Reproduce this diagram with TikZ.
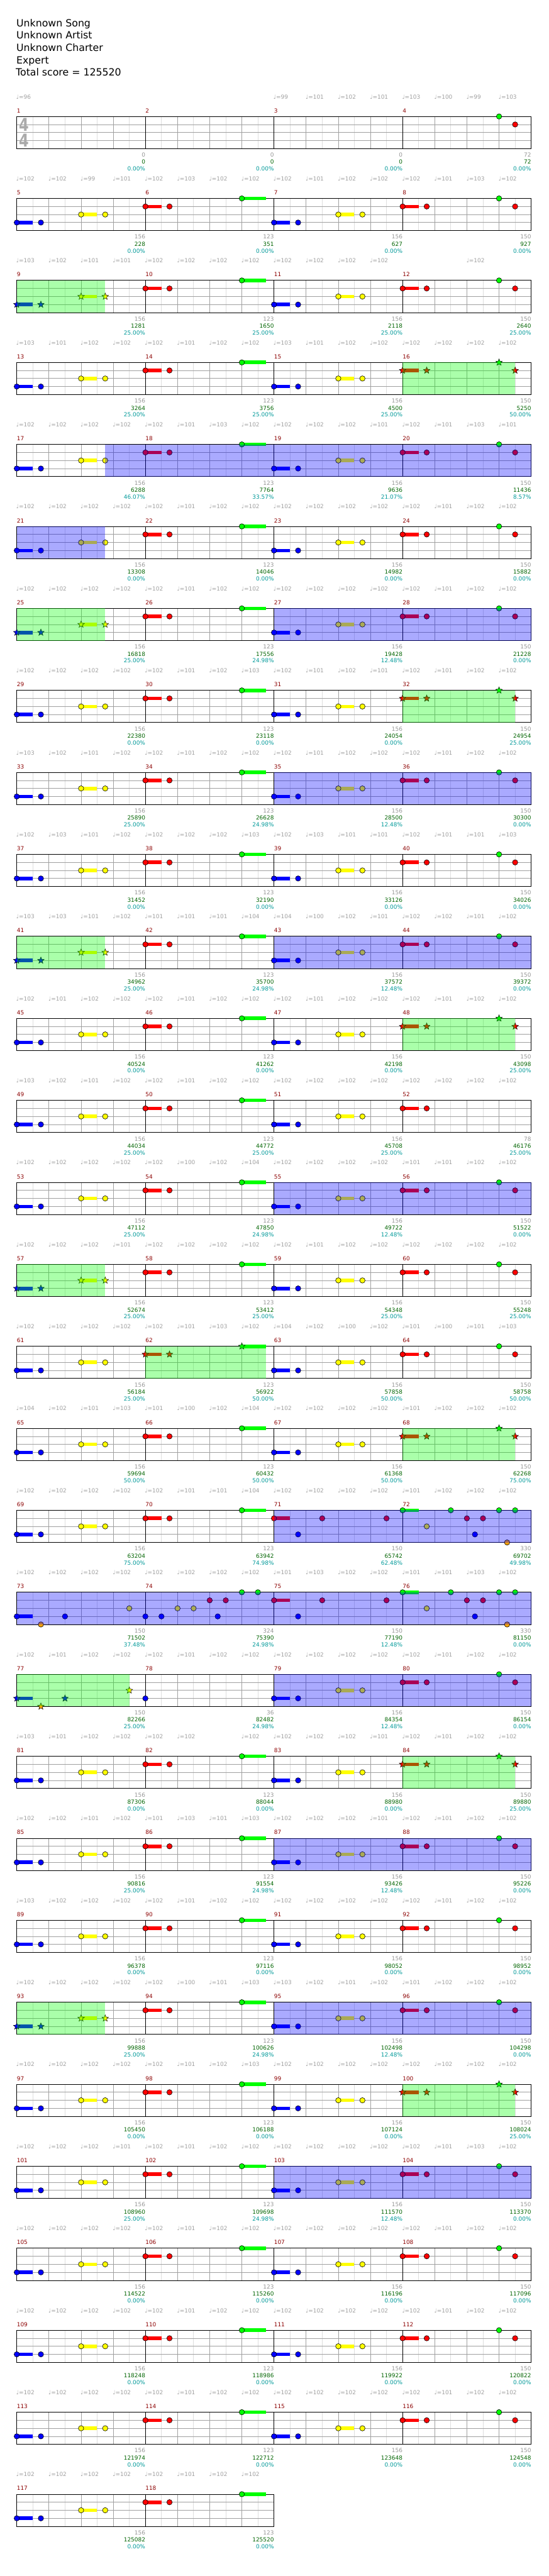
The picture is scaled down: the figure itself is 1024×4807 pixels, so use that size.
\documentclass[tikz,border=0pt]{standalone}
\usepackage{fontspec}
\setmainfont{DejaVu Sans}
\usetikzlibrary{shapes.geometric}
\definecolor{lane0}{RGB}{0,255,0}
\definecolor{lane1}{RGB}{255,0,0}
\definecolor{lane2}{RGB}{255,255,0}
\definecolor{lane3}{RGB}{0,0,255}
\definecolor{lane4}{RGB}{255,165,0}
\definecolor{gridD}{RGB}{160,160,160}
\definecolor{gridL}{RGB}{222,222,222}
\definecolor{mnumC}{RGB}{140,0,0}
\definecolor{tempoC}{RGB}{160,160,160}
\definecolor{scoreA}{RGB}{150,150,150}
\definecolor{scoreB}{RGB}{0,100,0}
\definecolor{scoreC}{RGB}{0,153,153}
\definecolor{tsC}{RGB}{170,170,170}
\newcount\ncnt
\newcommand\setm[1]{\pgfmathsetmacro\mx{31.3+240*mod(#1-1,4)}\pgfmathsetmacro\my{217.3+153*floor((#1-1)/4)}}
\newcommand\nt[4]{\setm{#1}\pgfmathsetmacro\ny{\my+15*#2}%
  \ifnum#4>0 \fill[lane#2] (\mx+#3,\ny-3.3) rectangle ++(#4,6.6);\fi
  \fill[lane#2,draw=black,line width=0.7pt] (\mx+#3,\ny) circle[radius=5];}
\newcommand\stn[4]{\setm{#1}\pgfmathsetmacro\ny{\my+15*#2}%
  \ifnum#4>0 \fill[lane#2] (\mx+#3,\ny-3.3) rectangle ++(#4,6.6);\fi
  \global\advance\ncnt by 1
  \node[starnote,fill=lane#2,name=n\the\ncnt] at (\mx+#3,\ny) {};}
\newcommand\patA[1]{\nt{#1}{3}{0}{30}\nt{#1}{3}{45}{0}\nt{#1}{2}{120}{30}\nt{#1}{2}{165}{0}}
\newcommand\starA[1]{\stn{#1}{3}{0}{30}\stn{#1}{3}{45}{0}\stn{#1}{2}{120}{30}\stn{#1}{2}{165}{0}}
\newcommand\patB[1]{\nt{#1}{1}{0}{30}\nt{#1}{1}{45}{0}\nt{#1}{0}{180}{45}}
\newcommand\starB[1]{\stn{#1}{1}{0}{30}\stn{#1}{1}{45}{0}\stn{#1}{0}{180}{45}}
\newcommand\patD[1]{\nt{#1}{1}{0}{30}\nt{#1}{1}{45}{0}\nt{#1}{0}{180}{0}\nt{#1}{1}{210}{0}}
\newcommand\starD[1]{\stn{#1}{1}{0}{30}\stn{#1}{1}{45}{0}\stn{#1}{0}{180}{0}\stn{#1}{1}{210}{0}}
\newcommand\patX[1]{\nt{#1}{1}{0}{30}\nt{#1}{3}{45}{0}\nt{#1}{1}{90}{0}\nt{#1}{1}{210}{0}}
\newcommand\patY[1]{\nt{#1}{0}{0}{30}\nt{#1}{2}{45}{0}\nt{#1}{0}{90}{0}\nt{#1}{1}{120}{0}\nt{#1}{3}{135}{0}\nt{#1}{1}{150}{0}\nt{#1}{0}{180}{0}\nt{#1}{4}{195}{0}\nt{#1}{0}{210}{0}}
\newcommand\gsp[3]{\setm{#1}\fill[lane0,opacity=0.333] (\mx+#2,\my) rectangle (\mx+#3,\my+60);}
\newcommand\bov[3]{\setm{#1}\fill[lane3,opacity=0.333] (\mx+#2,\my) rectangle (\mx+#3,\my+60);}
\newcommand\ChScore[4]{\setm{#1}%
  \node[lbl,text=scoreA,anchor=base east] (sa#1) at (\mx+240,\my+75.6) {#2};
  \node[lbl,text=scoreB,anchor=base east] (sb#1) at (\mx+240,\my+88.9) {#3};
  \node[lbl,text=scoreC,anchor=base east] (sc#1) at (\mx+240,\my+101.6) {#4\%};}
\newcommand\ChTq[3]{\def\tmparg{#3}\ifx\tmparg\empty\else\setm{#1}\global\advance\ncnt by 1
  \node[lbl,text=tempoC,anchor=base west,name=n\the\ncnt] at (\mx+60*#2-1,\my-33) {♩=#3};\fi}
\newcommand\ChTempo[5]{\ChTq{#1}{0}{#2}\ChTq{#1}{1}{#3}\ChTq{#1}{2}{#4}\ChTq{#1}{3}{#5}}
\tikzset{
  starnote/.style={star,star points=5,star point ratio=2.3,minimum size=13pt,inner sep=0pt,draw=black,line width=0.6pt},
  lbl/.style={inner sep=0pt,font=\fontsize{10.5}{12}\selectfont},
  head/.style={inner sep=0pt,anchor=base west,font=\fontsize{18.5}{22}\selectfont},
}
\begin{document}
\begin{tikzpicture}[x=1pt,y=-1pt]
\fill[white] (0,0) rectangle (1024,4807);
\useasboundingbox (0,0) rectangle (1024,4807);
% header
\node[head] (h1) at (30.5,49.3) {Unknown Song};
\node[head] (h2) at (30.5,72.3) {Unknown Artist};
\node[head] (h3) at (30.5,95.7) {Unknown Charter};
\node[head] (h4) at (30.5,118.7) {Expert};
\node[head] (h5) at (29.3,141.3) {Total score = 125520};
% grids
\foreach \m in {1,...,118}{
  \setm{\m}
  \foreach \k in {30,90,150,210} \draw[gridL,line width=0.9pt] (\mx+\k,\my) -- ++(0,60);
  \foreach \k in {60,120,180} \draw[gridD,line width=0.9pt] (\mx+\k,\my) -- ++(0,60);
  \foreach \k in {15,30,45} \draw[gridD,line width=0.9pt] (\mx,\my+\k) -- ++(240,0);
  \draw[black,line width=1pt] (\mx,\my) rectangle ++(240,60);
  \node[lbl,text=mnumC,anchor=base west] (mn\m) at (\mx,\my-7) {\m};
}
% time signature
\node[inner sep=0pt,text=tsC] (ts1) at (44.5,233) {\scalebox{0.8}[1]{\fontsize{33}{33}\selectfont\bfseries 4}};
\node[inner sep=0pt,text=tsC] (ts2) at (44.5,262) {\scalebox{0.8}[1]{\fontsize{33}{33}\selectfont\bfseries 4}};
% notes
\nt{4}{0}{180}{0}\nt{4}{1}{210}{0}
\patA{5}\patB{6}\patA{7}\patD{8}
\starA{9}\patB{10}\patA{11}\patD{12}
\patA{13}\patB{14}\patA{15}\starD{16}
\patA{17}\patB{18}\patA{19}\patD{20}
\patA{21}\patB{22}\patA{23}\patD{24}
\starA{25}\patB{26}\patA{27}\patD{28}
\patA{29}\patB{30}\patA{31}\starD{32}
\patA{33}\patB{34}\patA{35}\patD{36}
\patA{37}\patB{38}\patA{39}\patD{40}
\starA{41}\patB{42}\patA{43}\patD{44}
\patA{45}\patB{46}\patA{47}\starD{48}
\patA{49}\patB{50}\patA{51}\nt{52}{1}{0}{30}\nt{52}{1}{45}{0}
\patA{53}\patB{54}\patA{55}\patD{56}
\starA{57}\patB{58}\patA{59}\patD{60}
\patA{61}\starB{62}\patA{63}\patD{64}
\patA{65}\patB{66}\patA{67}\starD{68}
\patA{69}\patB{70}\patX{71}\patY{72}
\nt{73}{3}{0}{30}\nt{73}{4}{45}{0}\nt{73}{3}{90}{0}\nt{73}{2}{210}{0}
\nt{74}{3}{0}{0}\nt{74}{3}{30}{0}\nt{74}{2}{60}{0}\nt{74}{2}{90}{0}\nt{74}{1}{120}{0}\nt{74}{3}{135}{0}\nt{74}{1}{150}{0}\nt{74}{0}{180}{0}\nt{74}{0}{210}{0}
\patX{75}\patY{76}
\stn{77}{3}{0}{30}\stn{77}{4}{45}{0}\stn{77}{3}{90}{0}\stn{77}{2}{210}{0}
\nt{78}{3}{0}{0}\patA{79}\patD{80}
\patA{81}\patB{82}\patA{83}\starD{84}
\patA{85}\patB{86}\patA{87}\patD{88}
\patA{89}\patB{90}\patA{91}\patD{92}
\starA{93}\patB{94}\patA{95}\patD{96}
\patA{97}\patB{98}\patA{99}\starD{100}
\patA{101}\patB{102}\patA{103}\patD{104}
\patA{105}\patB{106}\patA{107}\patD{108}
\patA{109}\patB{110}\patA{111}\patD{112}
\patA{113}\patB{114}\patA{115}\patD{116}
\patA{117}\patB{118}
% overlays
\gsp{9}{0}{165}\gsp{16}{0}{210}
\bov{17}{165}{240}\bov{18}{0}{240}\bov{19}{0}{240}\bov{20}{0}{240}\bov{21}{0}{165}
\gsp{25}{0}{165}\bov{27}{0}{240}\bov{28}{0}{240}
\gsp{32}{0}{210}
\bov{35}{0}{240}\bov{36}{0}{240}
\gsp{41}{0}{165}\bov{43}{0}{240}\bov{44}{0}{240}
\gsp{48}{0}{210}
\bov{55}{0}{240}\bov{56}{0}{240}
\gsp{57}{0}{165}
\gsp{62}{0}{225}
\gsp{68}{0}{210}
\bov{71}{0}{240}\bov{72}{0}{240}
\bov{73}{0}{240}\bov{74}{0}{240}\bov{75}{0}{240}\bov{76}{0}{240}
\gsp{77}{0}{210}\bov{79}{0}{240}\bov{80}{0}{240}
\gsp{84}{0}{210}
\bov{87}{0}{240}\bov{88}{0}{240}
\gsp{93}{0}{165}\bov{95}{0}{240}\bov{96}{0}{240}
\gsp{100}{0}{210}
\bov{103}{0}{240}\bov{104}{0}{240}
% tempo
\ChTempo{1}{96}{}{}{}\ChTempo{3}{99}{101}{102}{101}\ChTempo{4}{103}{100}{99}{103}
\ChTempo{5}{102}{102}{99}{101}\ChTempo{6}{102}{103}{102}{102}\ChTempo{7}{102}{101}{102}{102}\ChTempo{8}{102}{101}{103}{102}
\ChTempo{9}{103}{102}{101}{101}\ChTempo{10}{102}{102}{102}{102}\ChTempo{11}{102}{102}{102}{102}\ChTempo{12}{}{}{102}{}
\ChTempo{13}{103}{101}{102}{102}\ChTempo{14}{102}{101}{102}{102}\ChTempo{15}{103}{101}{102}{102}\ChTempo{16}{102}{102}{102}{102}
\ChTempo{17}{102}{102}{102}{102}\ChTempo{18}{102}{101}{103}{102}\ChTempo{19}{102}{102}{102}{101}\ChTempo{20}{102}{101}{103}{101}
\ChTempo{21}{102}{102}{102}{102}\ChTempo{22}{102}{101}{102}{102}\ChTempo{23}{102}{102}{102}{102}\ChTempo{24}{102}{101}{102}{102}
\ChTempo{25}{102}{102}{102}{102}\ChTempo{26}{102}{101}{102}{102}\ChTempo{27}{102}{102}{102}{102}\ChTempo{28}{102}{101}{102}{102}
\ChTempo{29}{102}{102}{102}{102}\ChTempo{30}{102}{101}{102}{103}\ChTempo{31}{102}{101}{102}{101}\ChTempo{32}{102}{101}{102}{102}
\ChTempo{33}{103}{102}{101}{102}\ChTempo{34}{102}{101}{102}{102}\ChTempo{35}{102}{101}{102}{102}\ChTempo{36}{102}{101}{102}{102}
\ChTempo{37}{102}{103}{101}{102}\ChTempo{38}{102}{102}{102}{103}\ChTempo{39}{102}{103}{101}{101}\ChTempo{40}{102}{101}{101}{103}
\ChTempo{41}{103}{103}{101}{102}\ChTempo{42}{101}{101}{101}{104}\ChTempo{43}{104}{100}{102}{101}\ChTempo{44}{102}{102}{101}{102}
\ChTempo{45}{102}{101}{102}{102}\ChTempo{46}{102}{101}{102}{102}\ChTempo{47}{102}{101}{102}{102}\ChTempo{48}{102}{101}{102}{102}
\ChTempo{49}{103}{102}{101}{102}\ChTempo{50}{102}{101}{102}{102}\ChTempo{51}{102}{102}{102}{102}\ChTempo{52}{102}{102}{102}{102}
\ChTempo{53}{102}{102}{102}{102}\ChTempo{54}{102}{100}{102}{104}\ChTempo{55}{102}{102}{102}{102}\ChTempo{56}{101}{101}{102}{102}
\ChTempo{57}{102}{102}{102}{101}\ChTempo{58}{102}{102}{102}{102}\ChTempo{59}{102}{101}{102}{102}\ChTempo{60}{102}{102}{102}{102}
\ChTempo{61}{102}{102}{102}{102}\ChTempo{62}{102}{101}{103}{102}\ChTempo{63}{104}{102}{100}{102}\ChTempo{64}{101}{100}{101}{103}
\ChTempo{65}{104}{102}{101}{103}\ChTempo{66}{101}{100}{102}{104}\ChTempo{67}{102}{102}{102}{102}\ChTempo{68}{101}{102}{102}{102}
\ChTempo{69}{102}{102}{102}{102}\ChTempo{70}{102}{101}{101}{104}\ChTempo{71}{102}{102}{102}{102}\ChTempo{72}{101}{102}{102}{102}
\ChTempo{73}{102}{102}{102}{102}\ChTempo{74}{102}{102}{102}{102}\ChTempo{75}{101}{103}{102}{102}\ChTempo{76}{101}{101}{103}{102}
\ChTempo{77}{102}{101}{102}{102}\ChTempo{78}{102}{101}{102}{102}\ChTempo{79}{102}{102}{102}{102}\ChTempo{80}{102}{101}{102}{102}
\ChTempo{81}{103}{101}{102}{102}\ChTempo{82}{102}{102}{}{102}\ChTempo{83}{102}{102}{102}{101}\ChTempo{84}{102}{101}{102}{102}
\ChTempo{85}{102}{102}{101}{102}\ChTempo{86}{101}{103}{101}{103}\ChTempo{87}{102}{102}{102}{101}\ChTempo{88}{102}{101}{102}{102}
\ChTempo{89}{103}{102}{102}{102}\ChTempo{90}{102}{101}{102}{102}\ChTempo{91}{102}{102}{102}{102}\ChTempo{92}{102}{101}{102}{102}
\ChTempo{93}{102}{102}{102}{102}\ChTempo{94}{102}{100}{101}{103}\ChTempo{95}{103}{102}{101}{102}\ChTempo{96}{101}{102}{102}{102}
\ChTempo{97}{102}{102}{102}{102}\ChTempo{98}{102}{101}{102}{103}\ChTempo{99}{102}{102}{102}{102}\ChTempo{100}{102}{102}{102}{102}
\ChTempo{101}{102}{102}{102}{101}\ChTempo{102}{102}{101}{102}{102}\ChTempo{103}{102}{102}{102}{102}\ChTempo{104}{102}{101}{103}{102}
\ChTempo{105}{102}{102}{102}{102}\ChTempo{106}{102}{101}{102}{102}\ChTempo{107}{102}{102}{102}{102}\ChTempo{108}{102}{101}{102}{102}
\ChTempo{109}{102}{102}{102}{102}\ChTempo{110}{102}{101}{102}{102}\ChTempo{111}{102}{102}{102}{102}\ChTempo{112}{102}{101}{102}{102}
\ChTempo{113}{102}{102}{102}{102}\ChTempo{114}{102}{101}{102}{102}\ChTempo{115}{102}{102}{102}{102}\ChTempo{116}{102}{101}{102}{102}
\ChTempo{117}{102}{102}{102}{102}\ChTempo{118}{102}{101}{102}{102}
% scores
\ChScore{1}{0}{0}{0.00}\ChScore{2}{0}{0}{0.00}\ChScore{3}{0}{0}{0.00}\ChScore{4}{72}{72}{0.00}
\ChScore{5}{156}{228}{0.00}\ChScore{6}{123}{351}{0.00}\ChScore{7}{156}{627}{0.00}\ChScore{8}{150}{927}{0.00}
\ChScore{9}{156}{1281}{25.00}\ChScore{10}{123}{1650}{25.00}\ChScore{11}{156}{2118}{25.00}\ChScore{12}{150}{2640}{25.00}
\ChScore{13}{156}{3264}{25.00}\ChScore{14}{123}{3756}{25.00}\ChScore{15}{156}{4500}{25.00}\ChScore{16}{150}{5250}{50.00}
\ChScore{17}{156}{6288}{46.07}\ChScore{18}{123}{7764}{33.57}\ChScore{19}{156}{9636}{21.07}\ChScore{20}{150}{11436}{8.57}
\ChScore{21}{156}{13308}{0.00}\ChScore{22}{123}{14046}{0.00}\ChScore{23}{156}{14982}{0.00}\ChScore{24}{150}{15882}{0.00}
\ChScore{25}{156}{16818}{25.00}\ChScore{26}{123}{17556}{24.98}\ChScore{27}{156}{19428}{12.48}\ChScore{28}{150}{21228}{0.00}
\ChScore{29}{156}{22380}{0.00}\ChScore{30}{123}{23118}{0.00}\ChScore{31}{156}{24054}{0.00}\ChScore{32}{150}{24954}{25.00}
\ChScore{33}{156}{25890}{25.00}\ChScore{34}{123}{26628}{24.98}\ChScore{35}{156}{28500}{12.48}\ChScore{36}{150}{30300}{0.00}
\ChScore{37}{156}{31452}{0.00}\ChScore{38}{123}{32190}{0.00}\ChScore{39}{156}{33126}{0.00}\ChScore{40}{150}{34026}{0.00}
\ChScore{41}{156}{34962}{25.00}\ChScore{42}{123}{35700}{24.98}\ChScore{43}{156}{37572}{12.48}\ChScore{44}{150}{39372}{0.00}
\ChScore{45}{156}{40524}{0.00}\ChScore{46}{123}{41262}{0.00}\ChScore{47}{156}{42198}{0.00}\ChScore{48}{150}{43098}{25.00}
\ChScore{49}{156}{44034}{25.00}\ChScore{50}{123}{44772}{25.00}\ChScore{51}{156}{45708}{25.00}\ChScore{52}{78}{46176}{25.00}
\ChScore{53}{156}{47112}{25.00}\ChScore{54}{123}{47850}{24.98}\ChScore{55}{156}{49722}{12.48}\ChScore{56}{150}{51522}{0.00}
\ChScore{57}{156}{52674}{25.00}\ChScore{58}{123}{53412}{25.00}\ChScore{59}{156}{54348}{25.00}\ChScore{60}{150}{55248}{25.00}
\ChScore{61}{156}{56184}{25.00}\ChScore{62}{123}{56922}{50.00}\ChScore{63}{156}{57858}{50.00}\ChScore{64}{150}{58758}{50.00}
\ChScore{65}{156}{59694}{50.00}\ChScore{66}{123}{60432}{50.00}\ChScore{67}{156}{61368}{50.00}\ChScore{68}{150}{62268}{75.00}
\ChScore{69}{156}{63204}{75.00}\ChScore{70}{123}{63942}{74.98}\ChScore{71}{150}{65742}{62.48}\ChScore{72}{330}{69702}{49.98}
\ChScore{73}{150}{71502}{37.48}\ChScore{74}{324}{75390}{24.98}\ChScore{75}{150}{77190}{12.48}\ChScore{76}{330}{81150}{0.00}
\ChScore{77}{150}{82266}{25.00}\ChScore{78}{36}{82482}{24.98}\ChScore{79}{156}{84354}{12.48}\ChScore{80}{150}{86154}{0.00}
\ChScore{81}{156}{87306}{0.00}\ChScore{82}{123}{88044}{0.00}\ChScore{83}{156}{88980}{0.00}\ChScore{84}{150}{89880}{25.00}
\ChScore{85}{156}{90816}{25.00}\ChScore{86}{123}{91554}{24.98}\ChScore{87}{156}{93426}{12.48}\ChScore{88}{150}{95226}{0.00}
\ChScore{89}{156}{96378}{0.00}\ChScore{90}{123}{97116}{0.00}\ChScore{91}{156}{98052}{0.00}\ChScore{92}{150}{98952}{0.00}
\ChScore{93}{156}{99888}{25.00}\ChScore{94}{123}{100626}{24.98}\ChScore{95}{156}{102498}{12.48}\ChScore{96}{150}{104298}{0.00}
\ChScore{97}{156}{105450}{0.00}\ChScore{98}{123}{106188}{0.00}\ChScore{99}{156}{107124}{0.00}\ChScore{100}{150}{108024}{25.00}
\ChScore{101}{156}{108960}{25.00}\ChScore{102}{123}{109698}{24.98}\ChScore{103}{156}{111570}{12.48}\ChScore{104}{150}{113370}{0.00}
\ChScore{105}{156}{114522}{0.00}\ChScore{106}{123}{115260}{0.00}\ChScore{107}{156}{116196}{0.00}\ChScore{108}{150}{117096}{0.00}
\ChScore{109}{156}{118248}{0.00}\ChScore{110}{123}{118986}{0.00}\ChScore{111}{156}{119922}{0.00}\ChScore{112}{150}{120822}{0.00}
\ChScore{113}{156}{121974}{0.00}\ChScore{114}{123}{122712}{0.00}\ChScore{115}{156}{123648}{0.00}\ChScore{116}{150}{124548}{0.00}
\ChScore{117}{156}{125082}{0.00}\ChScore{118}{123}{125520}{0.00}
\end{tikzpicture}
\end{document}
